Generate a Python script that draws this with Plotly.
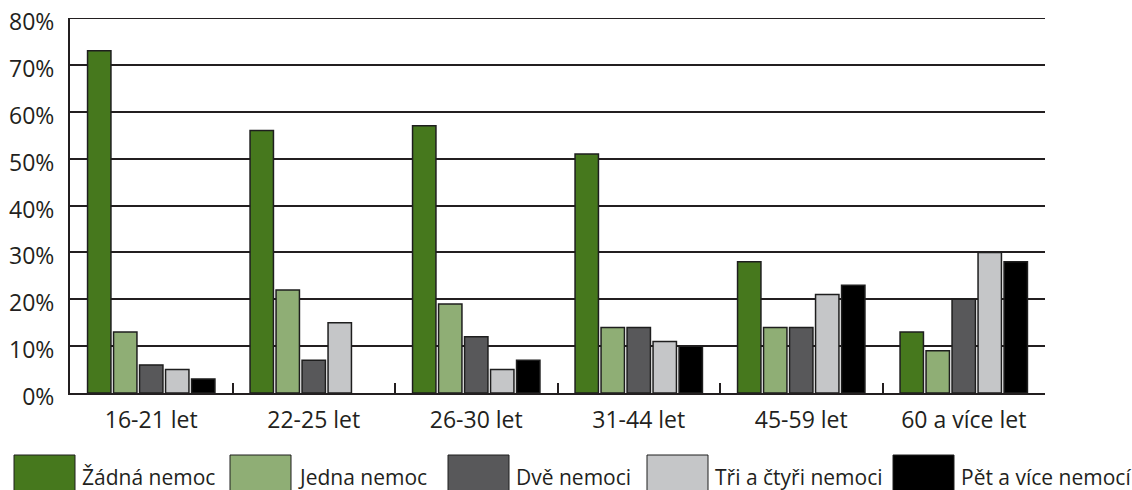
import plotly.graph_objects as go

categories = ["16-21 let", "22-25 let", "26-30 let", "31-44 let", "45-59 let", "60 a více let"]
series_names = ["Žádná nemoc", "Jedna nemoc", "Dvě nemoci", "Tři a čtyři nemoci", "Pět a více nemocí"]
zadna = [73, 56, 57, 51, 28, 13]
jedna = [13, 22, 19, 14, 14, 9]
dve = [6, 7, 12, 14, 14, 20]
tri_ctyri = [5, 15, 5, 11, 21, 30]
pet_vice = [3, None, 7, 10, 23, 28]
y_ticks = [0, 10, 20, 30, 40, 50, 60, 70, 80]

series_values = [zadna, jedna, dve, tri_ctyri, pet_vice]
colors = ["#46781d", "#8fae75", "#58585a", "#c5c6c8", "#000000"]

W, H = 1132, 490
# plot area in screen pixels
SL, SR, ST, SB = 70, 1045, 18, 393
L, T, R, B = SL, ST, W - SR, H - SB
pw, ph = SR - SL, SB - ST

fig = go.Figure()
for name, vals, c in zip(series_names, series_values, colors):
    fig.add_trace(go.Bar(
        x=categories, y=vals, name=name,
        marker=dict(color=c, line=dict(color="#1e1e1e", width=1.5)),
        showlegend=False,
    ))

font_family = "Open Sans, DejaVu Sans, sans-serif"

def sx2paper(px):
    return (px - SL) / pw

def sy2paper(py):
    return (SB - py) / ph

# custom legend (screen pixel positions)
legend_sq_x = [14, 230, 448, 647, 893]
sq_w = 61
shapes = [dict(
    type="line", xref="paper", yref="y", x0=0, x1=1,
    y0=y_ticks[-1], y1=y_ticks[-1], line=dict(color="#231f20", width=2),
)]
annotations = []
for name, c, sx in zip(series_names, colors, legend_sq_x):
    shapes.append(dict(
        type="rect", xref="paper", yref="paper",
        x0=sx2paper(sx), x1=sx2paper(sx + sq_w),
        y0=sy2paper(500), y1=sy2paper(455),
        fillcolor=c, line=dict(color="#1e1e1e", width=1),
    ))
    annotations.append(dict(
        xref="paper", yref="paper",
        x=sx2paper(sx + sq_w + 5), y=sy2paper(477),
        xanchor="left", yanchor="middle",
        text=name, showarrow=False,
        font=dict(family=font_family, size=21, color="#231f20"),
    ))

fig.update_layout(
    width=W, height=H,
    margin=dict(l=L, r=R, t=T, b=B, pad=0, autoexpand=False),
    paper_bgcolor="white", plot_bgcolor="white",
    barmode="group", bargap=0.2, bargroupgap=0.1,
    font=dict(family=font_family, size=23, color="#231f20"),
    shapes=shapes, annotations=annotations,
    xaxis=dict(
        type="category", showline=True, linecolor="#231f20", linewidth=2,
        ticks="inside", tickson="boundaries", ticklen=10, tickwidth=2, tickcolor="#231f20",
        showgrid=False, zeroline=False, ticklabelstandoff=5, automargin=False,
        tickfont=dict(family=font_family, size=23, color="#231f20"),
    ),
    yaxis=dict(
        range=[0, 80], tickvals=y_ticks, ticktext=[f"{v}%" for v in y_ticks],
        showline=True, linecolor="#231f20", linewidth=2,
        showgrid=True, gridcolor="#231f20", gridwidth=2,
        zeroline=False, ticks="", ticklabelstandoff=9, ticklabelshift=4,
        ticklabeloverflow="allow", automargin=False,
        tickfont=dict(family=font_family, size=23, color="#231f20"),
    ),
)

fig.write_html(
    "out.html",
    config={"displayModeBar": False},
    post_script=(
        "document.documentElement.style.margin='0';"
        "document.documentElement.style.padding='0';"
        "document.body.style.margin='0';"
        "document.body.style.padding='0';"
        "document.body.style.overflow='hidden';"
    ),
)
